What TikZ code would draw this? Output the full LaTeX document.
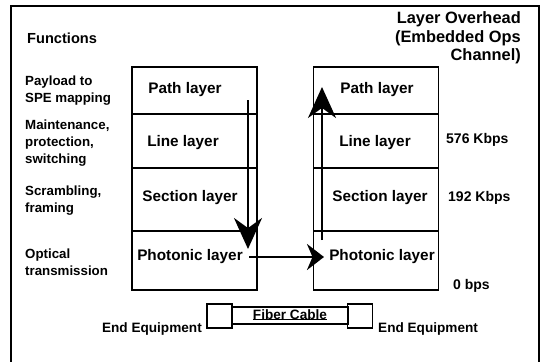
\documentclass[tikz,border=0pt]{standalone}
\usepackage{fontspec}
\setmainfont{Liberation Sans}
\usepackage{tikz}
\usetikzlibrary{arrows.meta,positioning}

\begin{document}
\begin{tikzpicture}[x=1pt, y=-1pt,
  cell/.style={draw, line width=1.3pt, minimum width=125pt, inner sep=0pt},
  celltxt/.style={inner sep=0pt, font=\bfseries\fontsize{15.3}{18}\selectfont},
  func/.style={anchor=west, align=left, inner sep=0pt,
    font=\bfseries\fontsize{13.3}{17}\selectfont},
  rate/.style={anchor=west, inner sep=0pt,
    font=\bfseries\fontsize{14}{17}\selectfont},
  equip/.style={draw, line width=1.3pt, minimum width=25pt, minimum height=24pt, inner sep=0pt},
  flow/.style={line width=2.8pt, -{Stealth[length=31pt, width=28pt]}}
]
  \useasboundingbox (0,0) rectangle (542,362);
  % frame (bottom edge is cut off)
  \draw[line width=2pt] (11,372) -- (11,6) -- (539,6) -- (539,372);

  \node[func, font=\bfseries\fontsize{14.6}{17}\selectfont] (funcs) at (27,38) {Functions};
  \node[anchor=east, align=right, inner sep=0pt,
    font=\bfseries\fontsize{16.4}{18.5}\selectfont] (ovh) at (521,38)
    {Layer Overhead\\(Embedded Ops\\Channel)};

  \node[func] (fpath) at (25,91) {Payload to\\SPE mapping};
  \node[func] (fline) at (25,143) {Maintenance,\\protection,\\switching};
  \node[func] (fsect) at (25,201) {Scrambling,\\framing};
  \node[func] (fphot) at (25,262) {Optical\\transmission};

  % left stack
  \node[cell, minimum height=47pt] (lpath) at (194.5,90.5) {};
  \node[cell, minimum height=54pt] (lline) at (194.5,141) {};
  \node[cell, minimum height=63pt] (lsect) at (194.5,199.5) {};
  \node[cell, minimum height=59pt] (lphot) at (194.5,260.5) {};
  \node[celltxt] (lpathtxt) at (185,90) {Path layer};
  \node[celltxt] (llinetxt) at (183,143) {Line layer};
  \node[celltxt] (lsecttxt) at (190,198) {Section layer};
  \node[celltxt] (lphottxt) at (190,257) {Photonic layer};

  % right stack
  \node[cell, minimum height=47pt] (rpath) at (376,90.5) {};
  \node[cell, minimum height=54pt] (rline) at (376,141) {};
  \node[cell, minimum height=63pt] (rsect) at (376,199.5) {};
  \node[cell, minimum height=59pt] (rphot) at (376,260.5) {};
  \node[celltxt] (rpathtxt) at (377,90) {Path layer};
  \node[celltxt] (rlinetxt) at (375,143) {Line layer};
  \node[celltxt] (rsecttxt) at (380,198) {Section layer};
  \node[celltxt] (rphottxt) at (382,257) {Photonic layer};

  \node[rate] (r576) at (446,140) {576 Kbps};
  \node[rate] (r192) at (448,198) {192 Kbps};
  \node[rate] (r0) at (453,286) {0 bps};

  % signal path
  \coordinate (dtop) at (248,100);
  \coordinate (dbot) at (248,249);
  \coordinate (hl) at (249,257);
  \coordinate (hr) at (324,257);
  \coordinate (ubot) at (322,240);
  \coordinate (utop) at (322,87);
  \draw[flow] (dtop) -- (dbot);
  \draw[flow, -{Stealth[length=17pt, width=26pt]}] (hl) -- (hr);
  \draw[flow] (ubot) -- (utop);

  % fiber link
  \node[equip] (eqL) at (219.5,316) {};
  \node[equip] (eqR) at (360,316) {};
  \node[draw, line width=1.3pt, inner sep=0pt, minimum height=17pt,
    minimum width=116pt] (cable) at (290,315.5) {};
  \node[inner sep=0pt, font=\bfseries\fontsize{13.6}{15}\selectfont] (cablelbl) at (290,314.5) {Fiber Cable};
  \draw[line width=0.9pt] (cablelbl.south west) -- (cablelbl.south east);

  \node[anchor=east, inner sep=0pt, font=\bfseries\fontsize{13.6}{16}\selectfont] (endL) at (202,329) {End Equipment};
  \node[anchor=west, inner sep=0pt, font=\bfseries\fontsize{13.6}{16}\selectfont] (endR) at (378,329) {End Equipment};
\end{tikzpicture}
\end{document}
